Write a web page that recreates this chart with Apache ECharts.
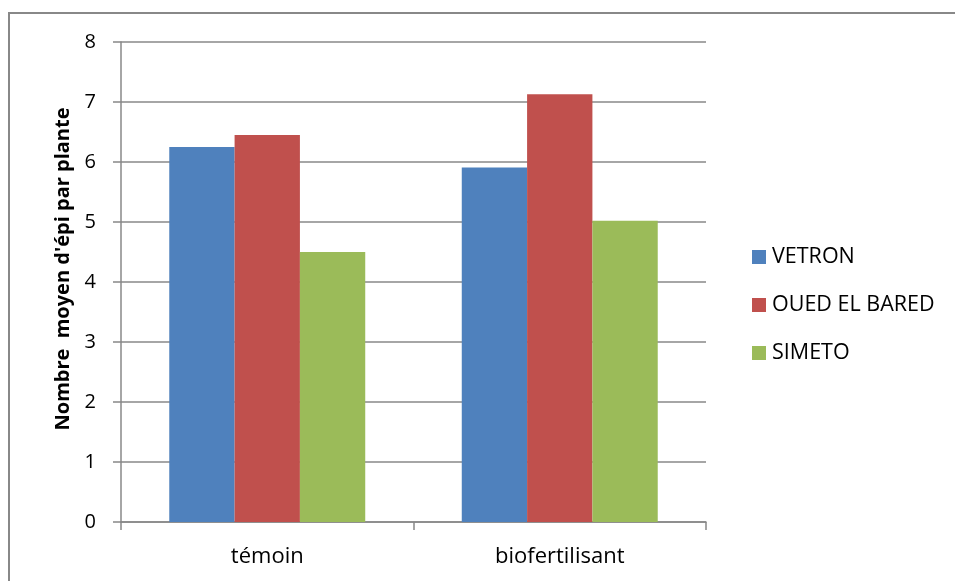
<!DOCTYPE html>
<html>
<head>
<meta charset="utf-8">
<script src="https://cdn.jsdelivr.net/npm/echarts@6/dist/echarts.min.js"></script>
<style>
  html, body { margin: 0; padding: 0; background: #fff; }
  #chart { width: 955px; height: 581px; }
</style>
</head>
<body>
<div id="chart"></div>
<script>
// categories / series
var categories = ['témoin', 'biofertilisant']
var seriesNames = ['VETRON', 'OUED EL BARED', 'SIMETO']
var vetron = [6.25, 5.91]
var ouedElBared = [6.45, 7.13]
var simeto = [4.50, 5.02]
var yTicks = [0, 1, 2, 3, 4, 5, 6, 7, 8]

var colorList = ['#4F81BD', '#C0504D', '#9BBB59'] // couleurs Excel
var font = "'Open Sans', 'Liberation Sans', sans-serif"

var myChart = echarts.init(document.getElementById('chart'))

myChart.setOption({
  animation: false,
  color: colorList,
  textStyle: { fontFamily: font },
  graphic: [{
    type: 'rect',
    shape: { x: 9, y: 13, width: 1000, height: 1000 },
    style: { fill: 'none', stroke: '#888888', lineWidth: 2 },
    silent: true
  }],
  grid: {
    left: 121,
    right: 249,
    top: 42,
    bottom: 59
  },
  legend: {
    orient: 'vertical',
    left: 747,
    top: 241,
    itemWidth: 14,
    itemHeight: 14,
    itemGap: 26,
    icon: 'rect',
    data: seriesNames,
    textStyle: { fontSize: 21.5, color: '#000', fontFamily: font, padding: [0, 0, 0, 1] }
  },
  xAxis: {
    type: 'category',
    data: categories,
    axisLine: { show: true, lineStyle: { color: '#888888', width: 1.5 } },
    axisTick: { show: true, length: 8, lineStyle: { color: '#888888', width: 1.5 } },
    axisLabel: { color: '#000', fontSize: 22, margin: 24, fontFamily: font }
  },
  yAxis: {
    type: 'value',
    min: yTicks[0],
    max: yTicks[yTicks.length - 1],
    interval: 1,
    name: "Nombre  moyen d'épi par plante",
    nameLocation: 'middle',
    nameGap: 47,
    nameTextStyle: { fontSize: 20, fontWeight: 'bold', color: '#000', fontFamily: font, padding: [0, 0, 0, 26] },
    axisLine: { show: true, lineStyle: { color: '#888888', width: 1.5 } },
    axisTick: { show: true, inside: false, length: 8, lineStyle: { color: '#888888', width: 1.5 } },
    axisLabel: { color: '#000', fontSize: 20, margin: 25, fontFamily: font },
    splitLine: { show: true, lineStyle: { color: '#888888', width: 1.5 } }
  },
  series: [
    { name: seriesNames[0], type: 'bar', data: vetron, barGap: '0%', barCategoryGap: '33%' },
    { name: seriesNames[1], type: 'bar', data: ouedElBared, barGap: '0%', barCategoryGap: '33%' },
    { name: seriesNames[2], type: 'bar', data: simeto, barGap: '0%', barCategoryGap: '33%' }
  ]
})
</script>
</body>
</html>
